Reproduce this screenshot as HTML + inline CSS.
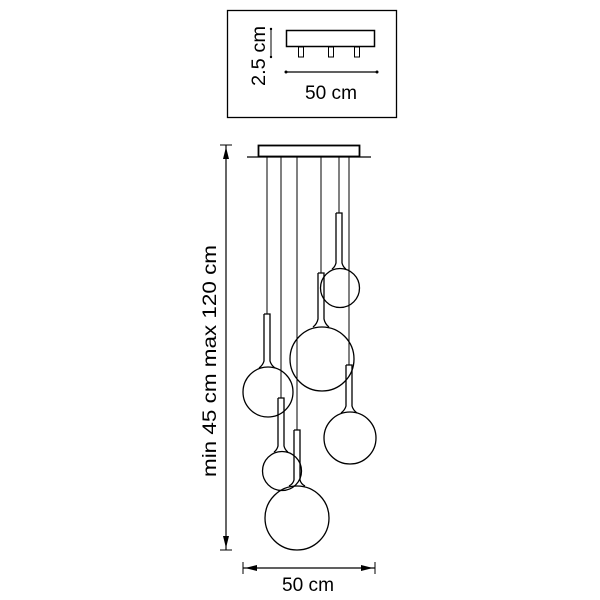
<!DOCTYPE html>
<html><head><style>body{margin:0;background:#fff}svg{display:block}</style></head><body>
<svg width="600" height="600" viewBox="0 0 600 600" xmlns="http://www.w3.org/2000/svg" font-family="Liberation Sans, sans-serif">
<g fill="none" stroke="#000">
<rect x="227.5" y="10.5" width="169" height="107" stroke-width="1.3"/>
<rect x="286.5" y="30.5" width="88" height="16" stroke-width="1.5"/>
<rect x="298.5" y="47" width="5" height="10"/>
<rect x="328.5" y="47" width="5" height="10"/>
<rect x="354.5" y="47" width="5" height="10"/>
<line x1="271" y1="29" x2="271" y2="57"/>
<line x1="286" y1="72" x2="377" y2="72" stroke-width="1.3"/>
<rect x="258.5" y="145.5" width="101" height="11" stroke-width="1.8"/>
<line x1="247" y1="157" x2="371" y2="157" stroke-width="1.2"/>
<g stroke-width="1">
<line x1="267" y1="157" x2="267" y2="314"/>
<line x1="281" y1="157" x2="281" y2="398"/>
<line x1="297" y1="157" x2="297" y2="430"/>
<line x1="321" y1="157" x2="321" y2="273"/>
<line x1="339" y1="157" x2="339" y2="213"/>
<line x1="349" y1="157" x2="349" y2="365"/>
</g>
<g stroke-width="1.3">
<path d="M336 213 h6 v50 q1 4 4 6 M336 213 v50 q-1 4 -4 6"/><circle cx="340" cy="288" r="19.5"/>
<path d="M318 273 h6 v46 q1 5 5 8 M318 273 v46 q-1 5 -5 8"/><circle cx="322" cy="359" r="32"/>
<path d="M264 314 h6 v47 q1 4 5 7 M264 314 v47 q-1 4 -5 7"/><circle cx="268" cy="392" r="25"/>
<path d="M346 365 h6 v41 q1 4 5 7 M346 365 v41 q-1 4 -5 7"/><circle cx="350" cy="438" r="26"/>
<path d="M278 398 h6 v48 q1 4 4 6 M278 398 v48 q-1 4 -4 6"/><circle cx="282" cy="471" r="19.5"/>
<path d="M294 430 h6 v50 q1 4 5 6 M294 430 v50 q-1 4 -5 6"/><circle cx="297" cy="518" r="32"/>
</g>
<line x1="226" y1="145" x2="226" y2="550" stroke-width="1.2"/>
<line x1="220" y1="145" x2="232" y2="145"/>
<line x1="220" y1="550" x2="232" y2="550"/>
<line x1="243" y1="568" x2="375" y2="568" stroke-width="1.2"/>
<line x1="243" y1="562" x2="243" y2="574"/>
<line x1="375" y1="562" x2="375" y2="574"/>
</g>
<g fill="#000">
<path d="M226 147 l-3 12 h6z"/><path d="M226 548 l-3 -12 h6z"/>
<path d="M245 568 l12 -3 v6z"/><path d="M373 568 l-12 -3 v6z"/>
<circle cx="271" cy="29" r="1.2"/><circle cx="271" cy="57" r="1.2"/>
<circle cx="286" cy="72" r="1.5"/><circle cx="377" cy="72" r="1.5"/>
</g>
<g font-size="19" fill="#000" text-anchor="middle">
<text x="331" y="99" textLength="52" lengthAdjust="spacingAndGlyphs">50 cm</text>
<text transform="translate(265,56) rotate(-90)" textLength="60" lengthAdjust="spacingAndGlyphs">2.5 cm</text>
<text transform="translate(216,361) rotate(-90)" textLength="232" lengthAdjust="spacingAndGlyphs">min 45 cm max 120 cm</text>
<text x="308" y="591" textLength="52" lengthAdjust="spacingAndGlyphs">50 cm</text>
</g>
</svg>
</body></html>
